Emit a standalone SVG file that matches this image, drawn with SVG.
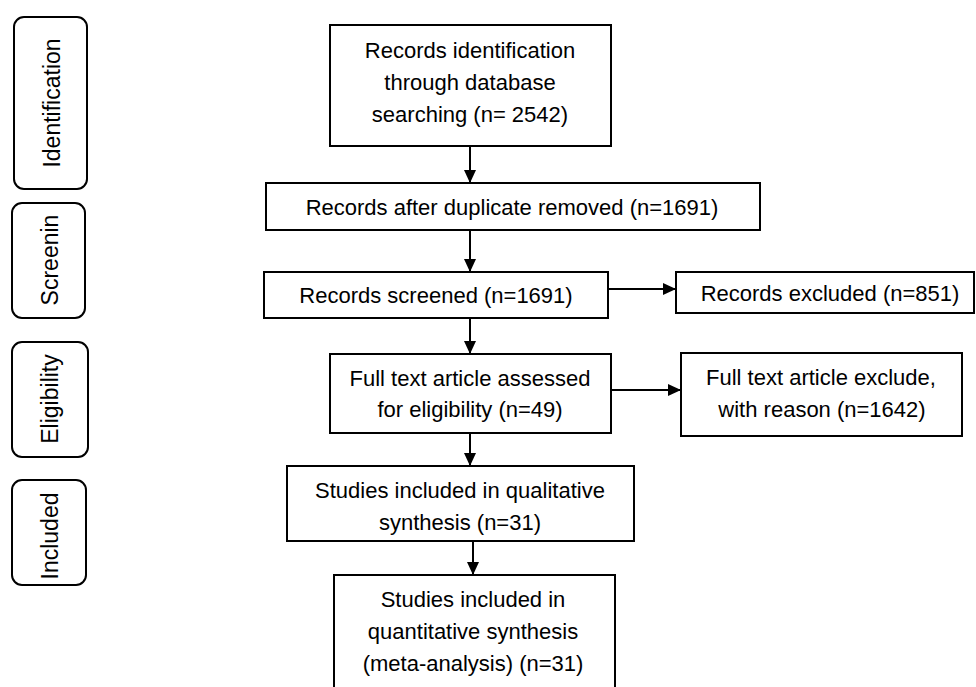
<svg xmlns="http://www.w3.org/2000/svg" width="976" height="687" viewBox="0 0 976 687">
<defs>
<style>
.box{fill:#fff;stroke:#000;stroke-width:2}
.side{fill:#fff;stroke:#000;stroke-width:2}
.t{font-family:"Liberation Sans",Arial,sans-serif;font-size:22px;fill:#000;text-anchor:middle}
.s{font-family:"Liberation Sans",Arial,sans-serif;font-size:23px;fill:#000;text-anchor:middle}
.edge{stroke:#000;stroke-width:2;fill:none}
</style>
<marker id="ah" markerUnits="userSpaceOnUse" markerWidth="14" markerHeight="14" viewBox="0 0 14 14" refX="13" refY="7" orient="auto">
<path d="M0,1 L13,7 L0,13 Z" fill="#000"/>
</marker>
</defs>
<rect width="976" height="687" fill="#fff"/>

<g id="stage-identification">
<rect class="side" x="14" y="17" width="73" height="172" rx="10"/>
<text class="s" transform="translate(52,103) rotate(-90)" y="8">Identification</text>
</g>
<g id="stage-screening">
<rect class="side" x="12" y="203" width="73" height="115" rx="10"/>
<text class="s" transform="translate(50,260) rotate(-90)" y="8">Screenin</text>
</g>
<g id="stage-eligibility">
<rect class="side" x="12" y="342" width="76" height="115" rx="10"/>
<text class="s" transform="translate(50,399) rotate(-90)" y="8">Eligibility</text>
</g>
<g id="stage-included">
<rect class="side" x="12" y="480" width="74" height="105" rx="10"/>
<text class="s" transform="translate(50,536) rotate(-90)" y="8">Included</text>
</g>

<g id="connectors">
<line class="edge" x1="470" y1="146" x2="470" y2="183" marker-end="url(#ah)"/>
<line class="edge" x1="470" y1="230" x2="470" y2="272" marker-end="url(#ah)"/>
<line class="edge" x1="608" y1="289" x2="676" y2="289" marker-end="url(#ah)"/>
<line class="edge" x1="470" y1="318" x2="470" y2="354" marker-end="url(#ah)"/>
<line class="edge" x1="611" y1="390" x2="681" y2="390" marker-end="url(#ah)"/>
<line class="edge" x1="470" y1="433" x2="470" y2="466" marker-end="url(#ah)"/>
<line class="edge" x1="473" y1="541" x2="473" y2="575" marker-end="url(#ah)"/>
</g>

<g id="n1">
<rect class="box" x="330" y="25" width="281" height="121"/>
<text class="t" x="470" y="58">Records identification</text>
<text class="t" x="470" y="90">through database</text>
<text class="t" x="470" y="122">searching (n= 2542)</text>
</g>
<g id="n2">
<rect class="box" x="266" y="183" width="494" height="47"/>
<text class="t" x="512" y="215">Records after duplicate removed (n=1691)</text>
</g>
<g id="n3">
<rect class="box" x="264" y="272" width="344" height="46"/>
<text class="t" x="436" y="303">Records screened (n=1691)</text>
</g>
<g id="n4">
<rect class="box" x="676" y="272" width="298" height="41"/>
<text class="t" x="830" y="301">Records excluded (n=851)</text>
</g>
<g id="n5">
<rect class="box" x="330" y="354" width="281" height="79"/>
<text class="t" x="470" y="386">Full text article assessed</text>
<text class="t" x="470" y="417">for eligibility (n=49)</text>
</g>
<g id="n6">
<rect class="box" x="681" y="353" width="281" height="83"/>
<text class="t" x="821" y="385">Full text article exclude,</text>
<text class="t" x="822" y="417">with reason (n=1642)</text>
</g>
<g id="n7">
<rect class="box" x="287" y="466" width="347" height="75"/>
<text class="t" x="460" y="498">Studies included in qualitative</text>
<text class="t" x="460" y="530">synthesis (n=31)</text>
</g>
<g id="n8">
<rect class="box" x="334" y="575" width="281" height="120"/>
<text class="t" x="473" y="607">Studies included in</text>
<text class="t" x="473" y="639">quantitative synthesis</text>
<text class="t" x="473" y="671">(meta-analysis) (n=31)</text>
</g>
</svg>
